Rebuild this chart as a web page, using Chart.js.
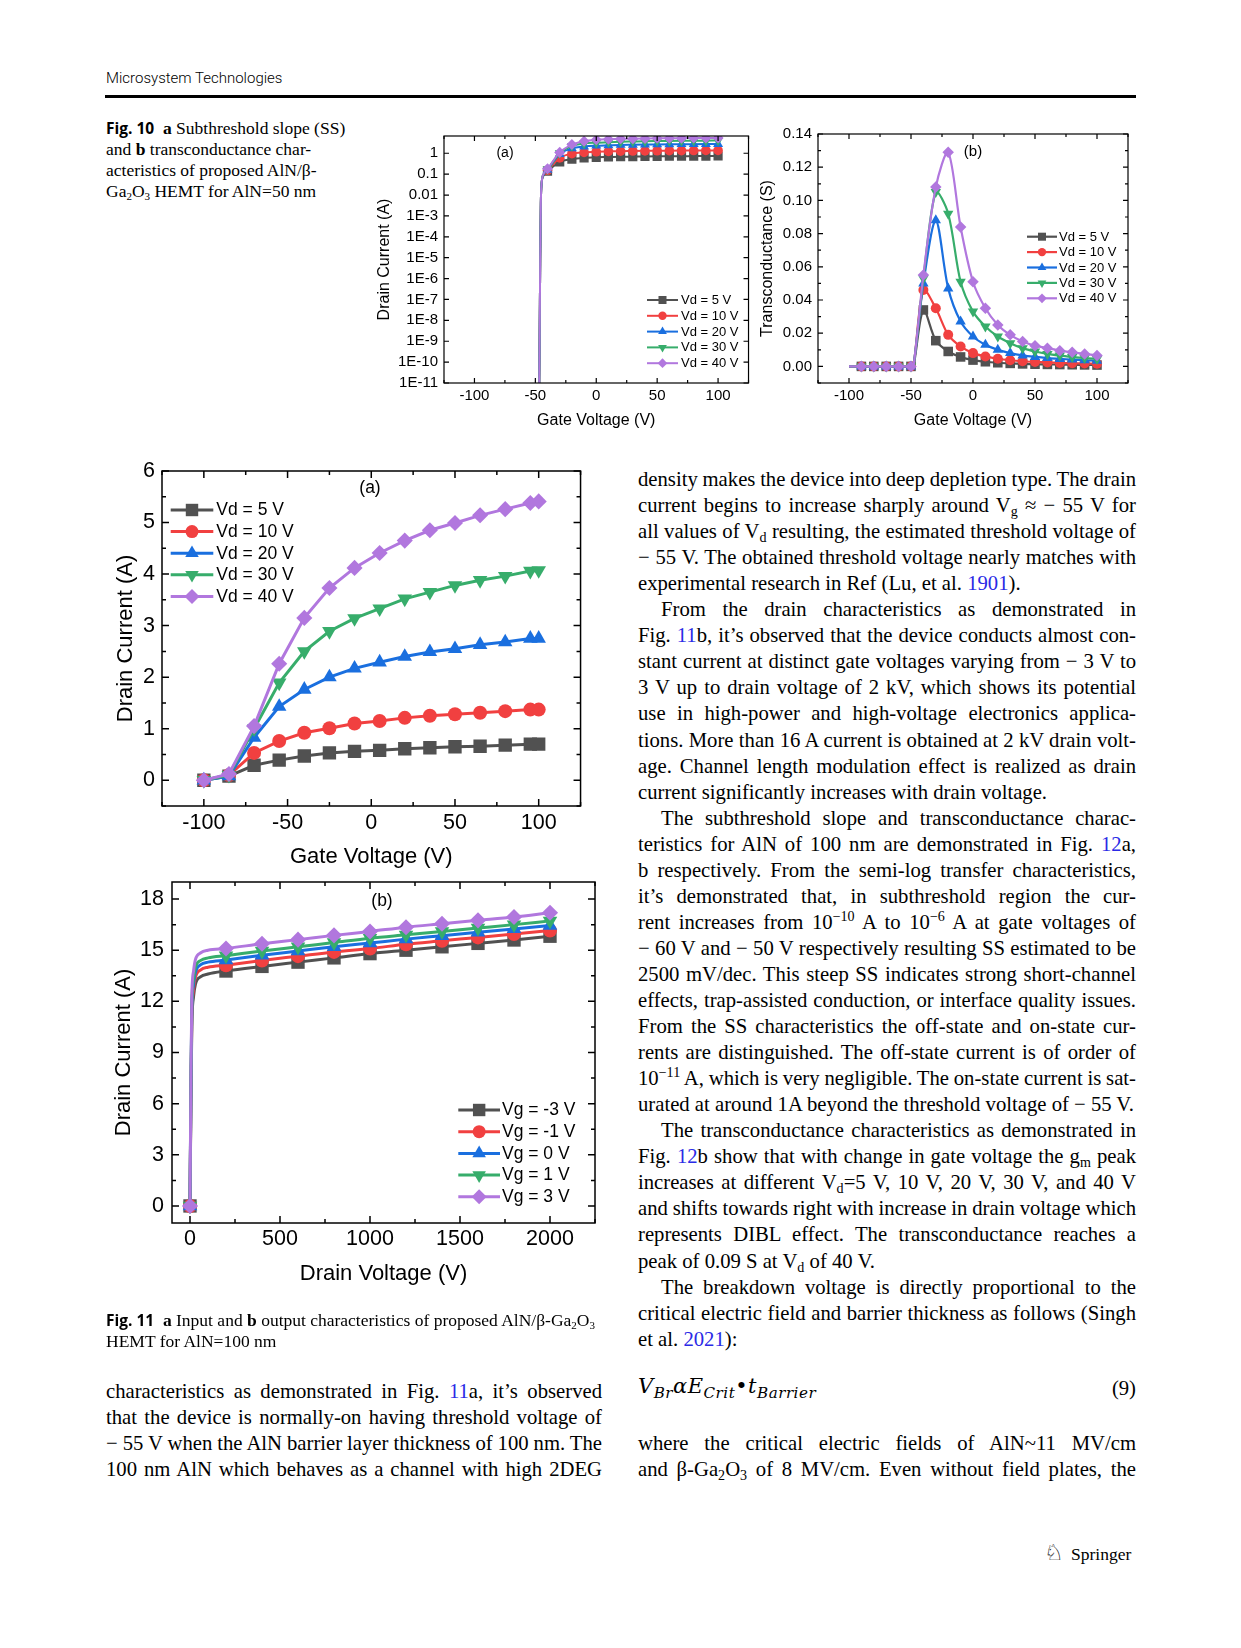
<!DOCTYPE html>
<html>
<head>
<meta charset="utf-8">
<script src="https://cdn.jsdelivr.net/npm/chart.js@4.4.1/dist/chart.umd.min.js"></script>
<style>
html, body { margin: 0; padding: 0; background: #fff; }
body { width: 1241px; height: 1648px; position: relative; overflow: hidden; color: #000; }
.abs { position: absolute; }
canvas { position: absolute; }
.head { font-family: Roboto, "Open Sans", sans-serif; font-weight: 300; font-size: 15px; line-height: 18px; }
.rule { background: #000; }
.cap { font-family: "Liberation Serif", serif; font-size: 17.5px; line-height: 21px; white-space: nowrap; }
.cap .fig { font-family: "Open Sans", "DejaVu Sans", sans-serif; font-weight: bold; font-size: 15.5px; }
.cap b { font-weight: bold; }
.cap sub { font-size: 11px; line-height: 0; vertical-align: -0.25em; }
.lab { font-family: "Liberation Sans", Arial, sans-serif; transform: translate(-50%, -50%); white-space: nowrap; }
.txt { font-family: "Liberation Serif", serif; font-size: 20.7px; line-height: 26px; }
.ln { position: absolute; white-space: nowrap; height: 26px; }
.ln sub, .ln sup { font-size: 0.68em; line-height: 0; }
.ln sub { vertical-align: -0.25em; }
.ln sup { vertical-align: 0.55em; }
.ln a { color: #2a2ae6; text-decoration: none; }
.eq { font-family: "DejaVu Serif", serif; font-style: italic; font-size: 21px; white-space: nowrap; letter-spacing: 0.5px; }
.eq sub { font-size: 0.72em; vertical-align: -0.3em; line-height: 0; }
</style>
</head>
<body>

<div class="abs head" style="left:106px; top:69px;">Microsystem Technologies</div>
<div class="abs rule" style="left:105px; top:95px; width:1031px; height:3px;"></div>

<div class="abs cap" style="left:106px; top:118px;">
<span class="fig">Fig. 10</span>&nbsp; <b>a</b> Subthreshold slope (SS)<br>
and <b>b</b> transconductance char-<br>
acteristics of proposed AlN/β-<br>
Ga<sub>2</sub>O<sub>3</sub> HEMT for AlN=50 nm
</div>

<canvas id="c10a" width="400" height="315" style="left:355px; top:120px;"></canvas>
<canvas id="c10b" width="433" height="319" style="left:720px; top:116px;"></canvas>
<canvas id="c11a" width="495" height="425" style="left:95px; top:450px;"></canvas>
<canvas id="c11b" width="510" height="436" style="left:95px; top:860px;"></canvas>

<div class="abs lab" style="left:505px; top:152px; font-size:14px;">(a)</div>
<div class="abs lab" style="left:973px; top:150px; font-size:15px;">(b)</div>
<div class="abs lab" style="left:370px; top:487px; font-size:17.5px;">(a)</div>
<div class="abs lab" style="left:382px; top:900px; font-size:17.5px;">(b)</div>

<div class="abs cap" style="left:106px; top:1310px;">
<span class="fig">Fig. 11</span>&nbsp; <b>a</b> Input and <b>b</b> output characteristics of proposed AlN/β-Ga<sub>2</sub>O<sub>3</sub><br>
HEMT for AlN=100 nm
</div>

<div id="colR" class="abs txt" style="left:638px; top:0; width:498px;"></div>
<div id="colL" class="abs txt" style="left:106px; top:0; width:496px;"></div>

<div class="abs eq" style="left:638px; top:1374px;">V<sub>Br</sub>αE<sub>Crit</sub>•t<sub>Barrier</sub></div>
<div class="abs txt" style="left:1090px; top:1375px; width:46px; text-align:right;">(9)</div>

<div class="abs" style="left:1044px; top:1540px; font-family:'DejaVu Sans'; font-size:22px; line-height:26px;">♘</div>
<div class="abs" style="left:1071px; top:1543px; font-family:'Liberation Serif', serif; font-size:17.5px; line-height:22px;">Springer</div>

<script>
// ---------- data ----------
const vdLabels = ['Vd = 5 V', 'Vd = 10 V', 'Vd = 20 V', 'Vd = 30 V', 'Vd = 40 V'];
const vgLabels = ['Vg = -3 V', 'Vg = -1 V', 'Vg = 0 V', 'Vg = 1 V', 'Vg = 3 V'];
const gateTicks = [-100, -50, 0, 50, 100];
const gateTickLabels = ['-100', '-50', '0', '50', '100'];

// Fig 10a: AlN = 50 nm, drain current (A), log axis
const vg10a = [-47, -46.5, -46, -45.5, -45, -43, -40, -30, -20, -10, 0, 10, 20, 30, 40, 50, 60, 70, 80, 90, 100];
const id10aVd5 = [1e-12, 1e-9, 1e-5, 4e-3, 0.03, 0.09, 0.14, 0.38, 0.52, 0.6, 0.64, 0.66, 0.68, 0.69, 0.7, 0.71, 0.72, 0.72, 0.73, 0.73, 0.74];
const id10aVd10 = [1e-12, 1e-9, 1e-5, 4e-3, 0.03, 0.1, 0.15, 0.6, 0.95, 1.1, 1.18, 1.22, 1.26, 1.28, 1.3, 1.32, 1.33, 1.34, 1.35, 1.36, 1.37];
const id10aVd20 = [1e-12, 1e-9, 1e-5, 4e-3, 0.03, 0.1, 0.16, 0.9, 1.7, 2.1, 2.3, 2.4, 2.5, 2.55, 2.6, 2.65, 2.68, 2.7, 2.72, 2.74, 2.76];
const id10aVd30 = [1e-12, 1e-9, 1e-5, 4e-3, 0.03, 0.11, 0.17, 1.0, 2.2, 2.9, 3.2, 3.4, 3.55, 3.65, 3.75, 3.82, 3.88, 3.93, 3.98, 4.02, 4.06];
const id10aVd40 = [1e-12, 1e-9, 1e-5, 4e-3, 0.03, 0.11, 0.18, 1.1, 2.6, 3.8, 4.4, 4.7, 4.9, 5.0, 5.1, 5.2, 5.25, 5.3, 5.35, 5.38, 5.4];
const logTicks10a = [1e-11, 1e-10, 1e-9, 1e-8, 1e-7, 1e-6, 1e-5, 1e-4, 1e-3, 0.01, 0.1, 1];
const logTickLabels10a = ['1E-11', '1E-10', '1E-9', '1E-8', '1E-7', '1E-6', '1E-5', '1E-4', '1E-3', '0.01', '0.1', '1'];

// Fig 10b: transconductance (S)
const vg10b = [-100, -90, -80, -70, -60, -50, -48, -40, -30, -20, -10, 0, 10, 20, 30, 40, 50, 60, 70, 80, 90, 100];
const gm10bVd5 = [0, 0, 0, 0, 0, 0, 0, 0.034, 0.0155, 0.009, 0.0057, 0.0038, 0.0028, 0.0022, 0.0018, 0.0015, 0.0013, 0.0012, 0.0011, 0.001, 0.0009, 0.0008];
const gm10bVd10 = [0, 0, 0, 0, 0, 0, 0, 0.046, 0.035, 0.019, 0.012, 0.008, 0.006, 0.0046, 0.0037, 0.0031, 0.0027, 0.0024, 0.0021, 0.0019, 0.0017, 0.0016];
const gm10bVd20 = [0, 0, 0, 0, 0, 0, 0, 0.05, 0.088, 0.047, 0.027, 0.018, 0.013, 0.010, 0.008, 0.0066, 0.0057, 0.005, 0.0045, 0.0041, 0.0037, 0.0034];
const gm10bVd30 = [0, 0, 0, 0, 0, 0, 0, 0.053, 0.105, 0.092, 0.051, 0.033, 0.024, 0.018, 0.014, 0.011, 0.009, 0.0075, 0.0065, 0.0057, 0.005, 0.0045];
const gm10bVd40 = [0, 0, 0, 0, 0, 0, 0, 0.055, 0.108, 0.129, 0.084, 0.051, 0.035, 0.025, 0.019, 0.015, 0.0125, 0.011, 0.0095, 0.0085, 0.0075, 0.0066];
const gmTicks = [0, 0.02, 0.04, 0.06, 0.08, 0.10, 0.12, 0.14];
const gmTickLabels = ['0.00', '0.02', '0.04', '0.06', '0.08', '0.10', '0.12', '0.14'];

// Fig 11a: AlN = 100 nm, input characteristics
const vg11a = [-100, -85, -70, -55, -40, -25, -10, 5, 20, 35, 50, 65, 80, 95, 100];
const id11aVd5 = [0, 0.08, 0.29, 0.39, 0.47, 0.53, 0.56, 0.58, 0.61, 0.63, 0.65, 0.66, 0.68, 0.7, 0.7];
const id11aVd10 = [0, 0.1, 0.53, 0.76, 0.92, 1.01, 1.1, 1.15, 1.21, 1.25, 1.28, 1.31, 1.34, 1.37, 1.37];
const id11aVd20 = [0, 0.08, 0.83, 1.43, 1.76, 2.0, 2.17, 2.29, 2.4, 2.49, 2.55, 2.63, 2.68, 2.75, 2.75];
const id11aVd30 = [0, 0.1, 1.0, 1.89, 2.5, 2.89, 3.14, 3.33, 3.52, 3.65, 3.78, 3.88, 3.96, 4.06, 4.07];
const id11aVd40 = [0, 0.12, 1.05, 2.26, 3.15, 3.73, 4.12, 4.41, 4.65, 4.85, 4.99, 5.14, 5.26, 5.38, 5.41];
const id11aTicks = [0, 1, 2, 3, 4, 5, 6];

// Fig 11b: output characteristics
const vd11b = [0, 5, 10, 20, 30, 60, 100, 200, 400, 600, 800, 1000, 1200, 1400, 1600, 1800, 2000];
const id11bVgm3 = [0, 6, 10.5, 12.3, 13.0, 13.45, 13.6, 13.78, 14.05, 14.3, 14.55, 14.8, 15.0, 15.2, 15.4, 15.6, 15.82];
const id11bVgm1 = [0, 6.3, 11, 12.7, 13.4, 13.85, 14.0, 14.12, 14.4, 14.65, 14.9, 15.1, 15.35, 15.55, 15.75, 15.95, 16.15];
const id11bVg0 = [0, 6.6, 11.4, 13.0, 13.7, 14.15, 14.3, 14.42, 14.7, 14.95, 15.2, 15.42, 15.65, 15.85, 16.05, 16.25, 16.45];
const id11bVg1 = [0, 6.8, 11.7, 13.3, 14.0, 14.4, 14.55, 14.68, 14.95, 15.2, 15.45, 15.7, 15.9, 16.1, 16.3, 16.5, 16.72];
const id11bVg3 = [0, 7.2, 12.2, 13.8, 14.45, 14.85, 15.0, 15.1, 15.38, 15.62, 15.87, 16.1, 16.35, 16.55, 16.75, 16.95, 17.2];
const vdTicks = [0, 500, 1000, 1500, 2000];
const id11bTicks = [0, 3, 6, 9, 12, 15, 18];

// ---------- styles ----------
const seriesColors = ['#515151', '#F14040', '#1A6FDF', '#37AD6B', '#B177DE'];
const seriesShapes = ['rect', 'circle', 'triangle', 'triangle', 'rectRot'];
const seriesRot = [0, 0, 0, 180, 0];
const FONT = 'Liberation Sans';

function markerRadius(style, s) {
    if (style === 'rect') return 1.35 * s;
    if (style === 'triangle') return 1.2 * s;
    if (style === 'rectRot') return 1.15 * s;
    return s;
}

function drawMarker(ctx, style, rot, x, y, r, color) {
    ctx.save();
    ctx.fillStyle = color;
    ctx.translate(x, y);
    ctx.rotate(rot * Math.PI / 180);
    ctx.beginPath();
    if (style === 'circle') {
        ctx.arc(0, 0, r, 0, 2 * Math.PI);
    } else if (style === 'rect') {
        let s = r * Math.SQRT1_2;
        ctx.rect(-s, -s, 2 * s, 2 * s);
    } else if (style === 'rectRot') {
        ctx.moveTo(0, -r); ctx.lineTo(r, 0); ctx.lineTo(0, r); ctx.lineTo(-r, 0);
        ctx.closePath();
    } else {
        let a = 0;
        ctx.moveTo(Math.sin(a) * r, -Math.cos(a) * r);
        a += 2 * Math.PI / 3;
        ctx.lineTo(Math.sin(a) * r, -Math.cos(a) * r);
        a += 2 * Math.PI / 3;
        ctx.lineTo(Math.sin(a) * r, -Math.cos(a) * r);
        ctx.closePath();
    }
    ctx.fill();
    ctx.restore();
}

function minorValues(scale, step) {
    let out = [];
    if (!step) return out;
    let start = Math.ceil(scale.min / step - 1e-9) * step;
    for (let v = start; v <= scale.max + 1e-9; v += step) {
        if (!scale.ticks.some(t => Math.abs(t.value - v) < step * 1e-3)) out.push(v);
    }
    return out;
}

// box round the plot with inward ticks on all four sides
const framePlugin = {
    id: 'frame',
    afterDatasetsDraw(chart, args, o) {
        const ctx = chart.ctx;
        const a = chart.chartArea;
        const xs = chart.scales.x, ys = chart.scales.y;
        ctx.save();
        ctx.strokeStyle = '#000';
        ctx.lineWidth = o.lw;
        ctx.beginPath();
        const tx = (v, len) => {
            let p = xs.getPixelForValue(v);
            ctx.moveTo(p, a.bottom); ctx.lineTo(p, a.bottom - len);
            ctx.moveTo(p, a.top); ctx.lineTo(p, a.top + len);
        };
        const ty = (v, len) => {
            let p = ys.getPixelForValue(v);
            ctx.moveTo(a.left, p); ctx.lineTo(a.left + len, p);
            ctx.moveTo(a.right, p); ctx.lineTo(a.right - len, p);
        };
        xs.ticks.forEach(t => tx(t.value, o.major));
        ys.ticks.forEach(t => ty(t.value, o.major));
        minorValues(xs, o.xMinor).forEach(v => tx(v, o.minor));
        minorValues(ys, o.yMinor).forEach(v => ty(v, o.minor));
        ctx.stroke();
        ctx.strokeRect(a.left, a.top, a.right - a.left, a.bottom - a.top);
        ctx.restore();
    }
};

// legend drawn where the original puts it
const legendPlugin = {
    id: 'legendBox',
    afterDraw(chart, args, o) {
        const ctx = chart.ctx;
        ctx.save();
        chart.data.datasets.forEach((ds, i) => {
            let y = o.y + i * o.dy;
            ctx.strokeStyle = ds.borderColor;
            ctx.lineWidth = ds.borderWidth;
            ctx.beginPath();
            ctx.moveTo(o.x, y); ctx.lineTo(o.x + o.len, y);
            ctx.stroke();
            drawMarker(ctx, ds.pointStyle, ds.pointRotation, o.x + o.len / 2, y, markerRadius(ds.pointStyle, o.ms), ds.backgroundColor);
            ctx.fillStyle = '#000';
            ctx.font = o.fs + 'px "' + FONT + '"';
            ctx.textBaseline = 'middle';
            ctx.textAlign = 'left';
            ctx.fillText(ds.label, o.x + o.len + o.gap, y + 0.5);
        });
        ctx.restore();
    }
};

function buildDatasets(xs, series, labels, opt) {
    return series.map((ys, i) => ({
        label: labels[i],
        data: xs.map((x, j) => ({ x: x, y: ys[j] })),
        order: series.length - 1 - i,   // last series on top, as in Origin
        borderColor: seriesColors[i],
        backgroundColor: seriesColors[i],
        borderWidth: opt.lw,
        pointStyle: seriesShapes[i],
        pointRotation: seriesRot[i],
        pointRadius: c => (c.raw && opt.marked(c.raw.x)) ? markerRadius(seriesShapes[i], opt.ms) : 0,
        pointBorderWidth: 0,
        pointHoverRadius: 0,
        tension: opt.tension || 0,
        cubicInterpolationMode: opt.mono ? 'monotone' : 'default',
        fill: false
    }));
}

function axis(g) {
    return {
        type: g.type || 'linear',
        min: g.min,
        max: g.max,
        afterBuildTicks: s => { s.ticks = g.ticks.map(v => ({ value: v })); },
        afterFit: s => { if (g.width) s.width = g.width; if (g.height) s.height = g.height; },
        ticks: {
            autoSkip: false,
            maxRotation: 0,
            padding: g.pad,
            color: '#000',
            font: { family: FONT, size: g.fs, lineHeight: 1 },
            callback: (v, i) => g.labels[i]
        },
        grid: { display: false, drawTicks: false },
        border: { display: false },
        title: {
            display: true,
            text: g.title,
            color: '#000',
            font: { family: FONT, size: g.tfs, lineHeight: 1 },
            padding: g.tpad
        }
    };
}

function drawPlot(id, p) {
    return new Chart(document.getElementById(id), {
        type: 'line',
        data: { datasets: p.datasets },
        options: {
            responsive: false,
            animation: false,
            events: [],
            layout: { padding: { left: 0, top: p.padTop, right: p.padRight, bottom: 0 } },
            scales: { x: axis(p.x), y: axis(p.y) },
            plugins: {
                legend: { display: false },
                tooltip: { enabled: false },
                frame: p.frame,
                legendBox: p.legend
            }
        },
        plugins: [framePlugin, legendPlugin]
    });
}

// Fig 10a
drawPlot('c10a', {
    datasets: buildDatasets(vg10a, [id10aVd5, id10aVd10, id10aVd20, id10aVd30, id10aVd40], vdLabels,
        { lw: 2, ms: 4.8, mono: true, marked: x => x >= -40 && x % 10 === 0 }),
    padTop: 16, padRight: 4,
    x: { min: -125, max: 125, ticks: gateTicks, labels: gateTickLabels, height: 52, pad: 5, fs: 15,
         title: 'Gate Voltage (V)', tfs: 16, tpad: { top: 0, bottom: 6 } },
    y: { type: 'logarithmic', min: 1e-11, max: 6.7, ticks: logTicks10a, labels: logTickLabels10a, width: 89, pad: 6, fs: 15,
         title: 'Drain Current (A)', tfs: 16, tpad: { top: 22, bottom: 0 } },
    frame: { lw: 1.2, major: 5, minor: 3, xMinor: 25, yMinor: 0 },
    legend: { x: 292, y: 180, dy: 15.8, len: 31, gap: 3, fs: 13, ms: 4.2 }
});

// Fig 10b
drawPlot('c10b', {
    datasets: buildDatasets(vg10b, [gm10bVd5, gm10bVd10, gm10bVd20, gm10bVd30, gm10bVd40], vdLabels,
        { lw: 2.2, ms: 5, tension: 0.3, marked: x => x > -100 && x % 10 === 0 }),
    padTop: 18, padRight: 25,
    x: { min: -125, max: 125, ticks: gateTicks, labels: gateTickLabels, height: 52, pad: 5, fs: 15,
         title: 'Gate Voltage (V)', tfs: 16, tpad: { top: 0, bottom: 6 } },
    y: { min: -0.01, max: 0.14, ticks: gmTicks, labels: gmTickLabels, width: 98, pad: 6, fs: 15,
         title: 'Transconductance (S)', tfs: 16, tpad: { top: 40, bottom: 0 } },
    frame: { lw: 1.2, major: 5, minor: 3, xMinor: 25, yMinor: 0.01 },
    legend: { x: 307, y: 120.7, dy: 15.4, len: 30, gap: 2, fs: 13, ms: 4.2 }
});

// Fig 11a
drawPlot('c11a', {
    datasets: buildDatasets(vg11a, [id11aVd5, id11aVd10, id11aVd20, id11aVd30, id11aVd40], vdLabels,
        { lw: 3, ms: 7, marked: x => true }),
    padTop: 21, padRight: 9,
    x: { min: -125, max: 125, ticks: gateTicks, labels: gateTickLabels, height: 69, pad: 6, fs: 21.5,
         title: 'Gate Voltage (V)', tfs: 22, tpad: { top: 0, bottom: 7 } },
    y: { min: -0.5, max: 6, ticks: id11aTicks, labels: id11aTicks.map(String), width: 67, pad: 7, fs: 21.5,
         title: 'Drain Current (A)', tfs: 22, tpad: { top: 20, bottom: 0 } },
    frame: { lw: 1.5, major: 7, minor: 4, xMinor: 25, yMinor: 0.5 },
    legend: { x: 75.7, y: 60, dy: 21.6, len: 42.6, gap: 3, fs: 17.5, ms: 6.5 }
});

// Fig 11b
drawPlot('c11b', {
    datasets: buildDatasets(vd11b, [id11bVgm3, id11bVgm1, id11bVg0, id11bVg1, id11bVg3], vgLabels,
        { lw: 3, ms: 7, mono: true, marked: x => x % 200 === 0 }),
    padTop: 22, padRight: 10,
    x: { min: -100, max: 2250, ticks: vdTicks, labels: vdTicks.map(String), height: 73, pad: 5, fs: 21.5,
         title: 'Drain Voltage (V)', tfs: 22, tpad: { top: 0, bottom: 11 } },
    y: { min: -1, max: 19, ticks: id11bTicks, labels: id11bTicks.map(String), width: 77, pad: 8, fs: 21.5,
         title: 'Drain Current (A)', tfs: 22, tpad: { top: 18, bottom: 0 } },
    frame: { lw: 1.5, major: 7, minor: 4, xMinor: 250, yMinor: 1.5 },
    legend: { x: 363.3, y: 250, dy: 21.7, len: 41.7, gap: 2, fs: 17.5, ms: 6.5 }
});

// ---------- body text ----------
const rightLines = [
    ['density makes the device into deep depletion type. The drain', ''],
    ['current begins to increase sharply around V<sub>g</sub> ≈ − 55 V for', ''],
    ['all values of V<sub>d</sub> resulting, the estimated threshold voltage of', ''],
    ['− 55 V. The obtained threshold voltage nearly matches with', ''],
    ['experimental research in Ref (Lu, et al. <a>1901</a>).', 'last'],
    ['From the drain characteristics as demonstrated in', 'indent'],
    ['Fig. <a>11</a>b, it’s observed that the device conducts almost con-', ''],
    ['stant current at distinct gate voltages varying from − 3 V to', ''],
    ['3 V up to drain voltage of 2 kV, which shows its potential', ''],
    ['use in high-power and high-voltage electronics applica-', ''],
    ['tions. More than 16 A current is obtained at 2 kV drain volt-', ''],
    ['age. Channel length modulation effect is realized as drain', ''],
    ['current significantly increases with drain voltage.', 'last'],
    ['The subthreshold slope and transconductance charac-', 'indent'],
    ['teristics for AlN of 100 nm are demonstrated in Fig. <a>12</a>a,', ''],
    ['b respectively. From the semi-log transfer characteristics,', ''],
    ['it’s demonstrated that, in subthreshold region the cur-', ''],
    ['rent increases from 10<sup>−10</sup> A to 10<sup>−6</sup> A at gate voltages of', ''],
    ['− 60 V and − 50 V respectively resulting SS estimated to be', ''],
    ['2500 mV/dec. This steep SS indicates strong short-channel', ''],
    ['effects, trap-assisted conduction, or interface quality issues.', ''],
    ['From the SS characteristics the off-state and on-state cur-', ''],
    ['rents are distinguished. The off-state current is of order of', ''],
    ['10<sup>−11</sup> A, which is very negligible. The on-state current is sat-', ''],
    ['urated at around 1A beyond the threshold voltage of − 55 V.', 'last'],
    ['The transconductance characteristics as demonstrated in', 'indent'],
    ['Fig. <a>12</a>b show that with change in gate voltage the g<sub>m</sub> peak', ''],
    ['increases at different V<sub>d</sub>=5 V, 10 V, 20 V, 30 V, and 40 V', ''],
    ['and shifts towards right with increase in drain voltage which', ''],
    ['represents DIBL effect. The transconductance reaches a', ''],
    ['peak of 0.09 S at V<sub>d</sub> of 40 V.', 'last'],
    ['The breakdown voltage is directly proportional to the', 'indent'],
    ['critical electric field and barrier thickness as follows (Singh', ''],
    ['et al. <a>2021</a>):', 'last']
];
const rightTail = [
    ['where the critical electric fields of AlN~11 MV/cm', ''],
    ['and β-Ga<sub>2</sub>O<sub>3</sub> of 8 MV/cm. Even without field plates, the', '']
];
const leftLines = [
    ['characteristics as demonstrated in Fig. <a>11</a>a, it’s observed', ''],
    ['that the device is normally-on having threshold voltage of', ''],
    ['− 55 V when the AlN barrier layer thickness of 100 nm. The', ''],
    ['100 nm AlN which behaves as a channel with high 2DEG', '']
];

function setLines(col, lines, firstCenter, step, width) {
    lines.forEach((l, i) => {
        let d = document.createElement('div');
        d.className = 'ln';
        d.style.top = (firstCenter + i * step - 13) + 'px';
        let indent = l[1] === 'indent' ? 23 : 0;
        d.style.left = indent + 'px';
        let s = document.createElement('span');
        s.innerHTML = l[0];
        d.appendChild(s);
        col.appendChild(d);
        if (l[1] !== 'last') {
            let natural = s.getBoundingClientRect().width;
            let spaces = (s.textContent.match(/ /g) || []).length;
            if (spaces) s.style.wordSpacing = ((width - indent - natural) / spaces) + 'px';
        }
    });
}

const colR = document.getElementById('colR');
const colL = document.getElementById('colL');
setLines(colR, rightLines, 479, 26.05, 498);
setLines(colR, rightTail, 1443, 26, 498);
setLines(colL, leftLines, 1391, 26, 496);
</script>
</body>
</html>
